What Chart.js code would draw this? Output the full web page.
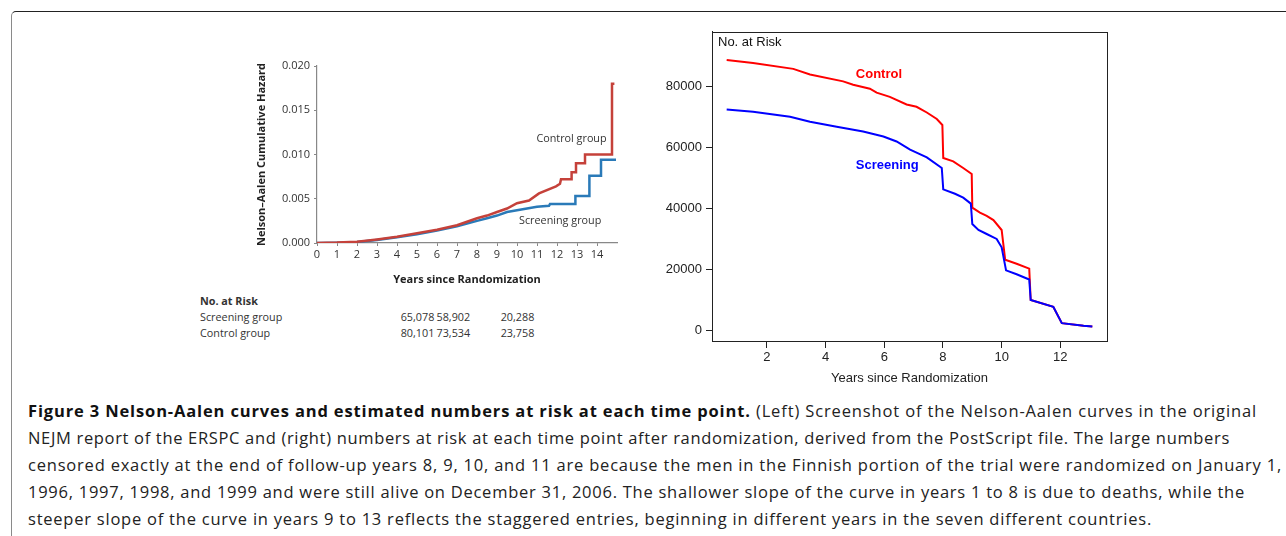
<!DOCTYPE html>
<html>
<head>
<meta charset="utf-8">
<script src="https://cdn.jsdelivr.net/npm/chart.js@4.4.1/dist/chart.umd.min.js"></script>
<style>
  html, body { margin: 0; padding: 0; background: #fff; }
  body { width: 1286px; height: 536px; position: relative; overflow: hidden; }
  #frame { position: absolute; left: 11px; top: 11px; width: 1400px; height: 700px;
    border-top: 1px solid #222; border-left: 1px solid #8a8a8a; border-top-left-radius: 5px; }
  canvas { position: absolute; }
  #left { left: 250px; top: 50px; }
  #right { left: 650px; top: 20px; }
  .tbl { position: absolute; font-family: "Open Sans", sans-serif; font-size: 10.8px; color: #333; line-height: 14px; white-space: nowrap; }
  .cap { position: absolute; left: 28px; font-family: "Open Sans", sans-serif; font-size: 16.5px; color: #222; line-height: 27px; white-space: nowrap; }
  .cap b { font-weight: 700; color: #111; }
</style>
</head>
<body>
<div id="frame"></div>
<canvas id="left" width="390" height="243"></canvas>
<canvas id="right" width="470" height="375"></canvas>
<div id="table"></div>
<div id="caption"></div>
<script>
// ---------- Left panel: Nelson-Aalen cumulative hazard ----------
const hazardControlYears = [0,1,2,3,4,5,6,7,7.5,8,8.5,9,9.5,10,10.6,11.1,11.95,12.15,12.2,12.73,12.73,12.95,12.95,13.4,13.4,14.75,14.75,14.87];
const hazardControl      = [0,0.00005,0.00015,0.0004,0.0007,0.0011,0.0015,0.002,0.0024,0.0028,0.0031,0.0035,0.0039,0.0045,0.0048,0.0056,0.0064,0.0067,0.0072,0.0072,0.008,0.008,0.009,0.009,0.010,0.010,0.018,0.018];
const hazardScreeningYears = [0,1,2,3,4,5,6,7,7.5,8,8.5,9,9.5,10,10.5,11,11.6,11.65,12.92,12.92,13.62,13.62,14.2,14.2,14.95];
const hazardScreening      = [0,0.00003,0.0001,0.00035,0.00065,0.001,0.0014,0.0019,0.0022,0.0025,0.0028,0.0031,0.0035,0.0037,0.0039,0.0041,0.0042,0.0044,0.0044,0.0053,0.0053,0.0076,0.0076,0.0094,0.0094];
const hazardXTicks = [0,1,2,3,4,5,6,7,8,9,10,11,12,13,14];
const hazardYTicks = [0,0.005,0.010,0.015,0.020];

// No. at Risk table (left panel)
const riskTableRows   = ["Screening group", "Control group"];
const riskTableScreen = ["65,078", "58,902", "20,288"];
const riskTableControl= ["80,101", "73,534", "23,758"];

// ---------- Right panel: numbers at risk ----------
const riskControlYears = [0.63,1.53,2.9,3.47,4.6,4.94,5.51,5.74,6.19,6.76,7.1,7.45,7.79,7.98,8.01,8.35,8.69,8.98,9.0,9.26,9.49,9.72,10.0,10.12,10.51,10.94,10.99,11.76,12.05,12.79,13.09];
const riskControl      = [88650,87670,85720,83900,81620,80520,79220,77920,76520,74020,73270,71410,69270,67320,56460,55380,53200,51250,40200,38570,37500,36100,32850,23090,21790,20160,9850,7670,2280,1400,1170];
const riskScreeningYears = [0.63,1.53,2.79,3.47,4.38,5.28,5.97,6.42,6.88,7.45,7.96,8.01,8.41,8.69,8.95,9.0,9.21,9.49,9.83,10.0,10.15,10.51,10.94,10.99,11.76,12.05,12.79,13.09];
const riskScreening      = [72390,71640,70010,68390,66760,65140,63510,61890,59190,56680,53200,46180,44750,43450,41500,34800,32850,31540,29920,27190,19610,18310,16590,9850,7670,2280,1400,1170];
const riskXTicks = [2,4,6,8,10,12];
const riskYTicks = [0,20000,40000,60000,80000];

const zip = (xs, ys) => xs.map((x, i) => ({x, y: ys[i]}));

// text label plugin
const labelPlugin = {
  id: 'labels',
  afterDatasetsDraw(chart, args, opts) {
    const {ctx, scales} = chart;
    ctx.save();
    for (const l of opts.items || []) {
      ctx.font = l.font;
      ctx.fillStyle = l.color;
      ctx.textAlign = 'left';
      ctx.textBaseline = 'middle';
      let px = l.px !== undefined ? l.px : scales.x.getPixelForValue(l.x);
      let py = l.py !== undefined ? l.py : scales.y.getPixelForValue(l.y);
      ctx.fillText(l.text, px, py);
    }
    ctx.restore();
  }
};
const boxPlugin = {
  id: 'box',
  afterDraw(chart, args, opts) {
    if (!opts.show) return;
    const {ctx, chartArea: a} = chart;
    ctx.save();
    ctx.strokeStyle = opts.color; ctx.lineWidth = 1;
    ctx.strokeRect(Math.round(a.left) + 0.5, Math.round(a.top) + 0.5, Math.round(a.right - a.left), Math.round(a.bottom - a.top));
    ctx.restore();
  }
};

function setTicks(values) { return (scale) => { scale.ticks = values.map(v => ({value: v})); }; }

// ---- Left chart ----
const leftFont = '"Open Sans", sans-serif';
new Chart(document.getElementById('left'), {
  type: 'line',
  data: {
    datasets: [
      { data: zip(hazardControlYears, hazardControl), borderColor: '#c5413a', borderWidth: 2.5, pointRadius: 0, tension: 0, order: 0 },
      { data: zip(hazardScreeningYears, hazardScreening), borderColor: '#2a7ab8', borderWidth: 2.5, pointRadius: 0, tension: 0, order: 1 }
    ]
  },
  options: {
    responsive: false, animation: false, devicePixelRatio: 1,
    layout: { padding: { left: 5, right: 23, top: 16, bottom: 0 } },
    plugins: {
      legend: { display: false }, tooltip: { enabled: false },
      labels: { items: [
        { text: 'Control group', x: 10.97, y: 0.01172, font: '10.8px ' + leftFont, color: '#333' },
        { text: 'Screening group', x: 10.1, y: 0.00249, font: '10.8px ' + leftFont, color: '#333' }
      ]},
      box: { show: false }
    },
    scales: {
      x: {
        type: 'linear', min: 0, max: 15,
        afterBuildTicks: setTicks(hazardXTicks),
        afterFit: (s) => { s.height = 50; },
        grid: { drawOnChartArea: false, drawTicks: true, tickLength: 3, color: '#888' },
        border: { display: true, color: '#888', width: 1.2 },
        ticks: { font: { family: leftFont, size: 11 }, color: '#333', padding: 2, maxRotation: 0, autoSkip: false },
        title: { display: true, text: 'Years since Randomization', font: { family: leftFont, size: 11, weight: 'bold' }, color: '#222', padding: { top: 0, bottom: 7 } }
      },
      y: {
        type: 'linear', min: 0, max: 0.02,
        afterBuildTicks: setTicks(hazardYTicks),
        afterFit: (s) => { s.width = 62; },
        grid: { drawOnChartArea: false, drawTicks: true, tickLength: 3, color: '#888' },
        border: { display: true, color: '#888', width: 1.2 },
        ticks: { font: { family: leftFont, size: 11 }, color: '#333', padding: 4, callback: (v) => v.toFixed(3) },
        title: { display: true, text: 'Nelson\u2013Aalen Cumulative Hazard', font: { family: leftFont, size: 11, weight: 'bold' }, color: '#222', padding: { top: 0, bottom: 0 } }
      }
    }
  },
  plugins: [labelPlugin, boxPlugin]
});

// ---- Right chart ----
const rightFont = '"Liberation Sans", Arial, sans-serif';
new Chart(document.getElementById('right'), {
  type: 'line',
  data: {
    datasets: [
      { data: zip(riskScreeningYears, riskScreening), borderColor: '#0000ff', borderWidth: 2, pointRadius: 0, tension: 0, order: 0 },
      { data: zip(riskControlYears, riskControl), borderColor: '#ff0000', borderWidth: 2, pointRadius: 0, tension: 0, order: 1 }
    ]
  },
  options: {
    responsive: false, animation: false, devicePixelRatio: 1,
    layout: { padding: { left: 0, right: 13, top: 9, bottom: 0 } },
    plugins: {
      legend: { display: false }, tooltip: { enabled: false },
      labels: { items: [
        { text: 'No. at Risk', px: 68, py: 22, font: '13px ' + rightFont, color: '#111' },
        { text: 'Control', x: 5.03, y: 83900, font: 'bold 13px ' + rightFont, color: '#ff0000' },
        { text: 'Screening', x: 5.03, y: 53980, font: 'bold 13px ' + rightFont, color: '#0000ff' }
      ]},
      box: { show: true, color: '#222' }
    },
    scales: {
      x: {
        type: 'linear', min: 0.13, max: 13.59,
        afterBuildTicks: setTicks(riskXTicks),
        afterFit: (s) => { s.height = 54; },
        grid: { drawOnChartArea: false, drawTicks: true, tickLength: 7, color: '#222' },
        border: { display: true, color: '#222' },
        ticks: { font: { family: rightFont, size: 13 }, color: '#222', padding: 2, maxRotation: 0, autoSkip: false },
        title: { display: true, text: 'Years since Randomization', font: { family: rightFont, size: 13 }, color: '#222', padding: { top: 0, bottom: 9 } }
      },
      y: {
        type: 'linear', min: -3577, max: 97886,
        afterBuildTicks: setTicks(riskYTicks),
        afterFit: (s) => { s.width = 62; },
        grid: { drawOnChartArea: false, drawTicks: true, tickLength: 6, color: '#222' },
        border: { display: true, color: '#222' },
        ticks: { font: { family: rightFont, size: 13 }, color: '#222', padding: 4, callback: (v) => String(v) }
      }
    }
  },
  plugins: [labelPlugin, boxPlugin]
});

// ---- Table under left chart ----
(function () {
  const t = document.getElementById('table');
  function add(text, x, cy, bold) {
    const d = document.createElement('div');
    d.className = 'tbl';
    d.textContent = text;
    d.style.left = x + 'px';
    d.style.top = (cy - 7) + 'px';
    if (bold) d.style.fontWeight = '700';
    t.appendChild(d);
  }
  add('No. at Risk', 200, 301, true);
  const rowY = [317.3, 332.7];
  const colX = [400.7, 436.5, 500.7];
  add(riskTableRows[0], 200, rowY[0]);
  add(riskTableRows[1], 200, rowY[1]);
  riskTableScreen.forEach((v, i) => add(v, colX[i], rowY[0]));
  riskTableControl.forEach((v, i) => add(v, colX[i], rowY[1]));
})();

// ---- Caption ----
const captionBold = 'Figure 3 Nelson-Aalen curves and estimated numbers at risk at each time point.';
const captionLines = [
  ' (Left) Screenshot of the Nelson-Aalen curves in the original',
  'NEJM report of the ERSPC and (right) numbers at risk at each time point after randomization, derived from the PostScript file. The large numbers',
  'censored exactly at the end of follow-up years 8, 9, 10, and 11 are because the men in the Finnish portion of the trial were randomized on January 1,',
  '1996, 1997, 1998, and 1999 and were still alive on December 31, 2006. The shallower slope of the curve in years 1 to 8 is due to deaths, while the',
  'steeper slope of the curve in years 9 to 13 reflects the staggered entries, beginning in different years in the seven different countries.'
];
(function () {
  const c = document.getElementById('caption');
  const rightEdges = [1257, 1230, 1282, 1245, 1152];
  const lines = [];
  captionLines.forEach((txt, i) => {
    const d = document.createElement('div');
    d.className = 'cap';
    d.style.top = (396.5 + i * 27) + 'px';
    const s = document.createElement('span');
    if (i === 0) {
      const b = document.createElement('b');
      b.textContent = captionBold;
      s.appendChild(b);
      s.appendChild(document.createTextNode(txt));
    } else {
      s.textContent = txt;
    }
    d.appendChild(s);
    c.appendChild(d);
    lines.push([s, d, (i === 0 ? captionBold + txt : txt).length]);
  });
  function fit() {
    lines.forEach(([s, d, n], i) => {
      d.style.letterSpacing = '0px';
      const w = s.getBoundingClientRect().width;
      const target = rightEdges[i] - 28;
      d.style.letterSpacing = ((target - w) / n) + 'px';
    });
  }
  fit();
  if (document.fonts && document.fonts.ready) document.fonts.ready.then(fit);
})();
</script>
</body>
</html>
